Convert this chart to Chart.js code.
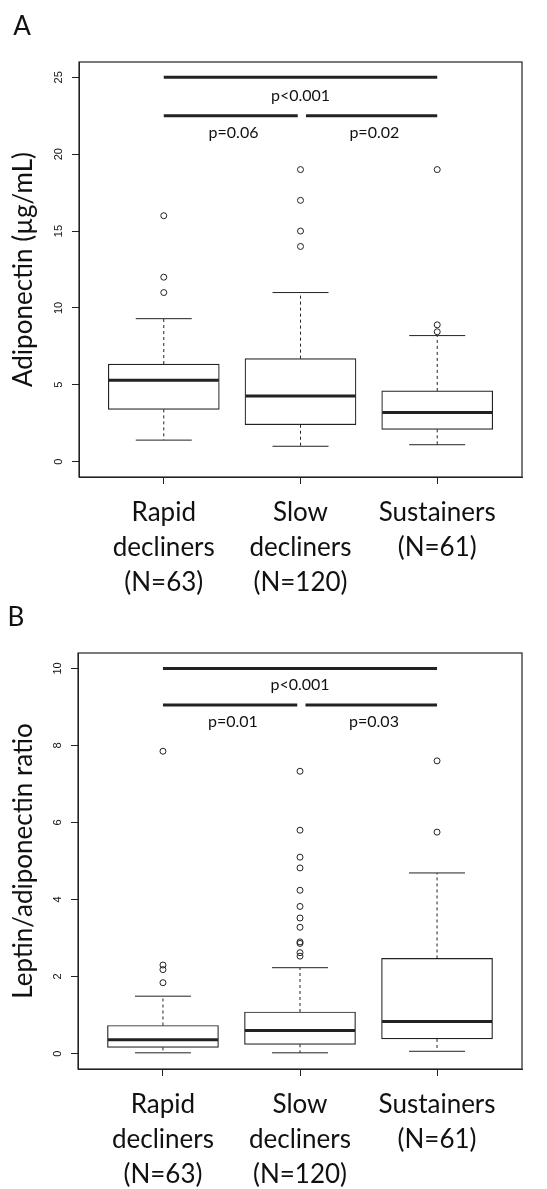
<!DOCTYPE html>
<html>
<head>
<meta charset="utf-8">
<script src="https://cdn.jsdelivr.net/npm/chart.js@4.4.1/dist/chart.umd.min.js"></script>
<style>
  html, body { margin: 0; padding: 0; background: #fff; }
  #wrap { position: relative; width: 547px; height: 1189px; }
  canvas { position: absolute; left: 0; }
  #chartA { top: 0; }
  #chartB { top: 600px; }
</style>
</head>
<body>
<div id="wrap">
  <canvas id="chartA" width="547" height="600"></canvas>
  <canvas id="chartB" width="547" height="589"></canvas>
</div>
<script>
// groups
const categories = [['Rapid', 'decliners', '(N=63)'], ['Slow', 'decliners', '(N=120)'], ['Sustainers', '(N=61)']];
const positions = [1, 2, 3];

// Panel A - Adiponectin
const adipoLow = [1.4, 1.0, 1.1];
const adipoQ1 = [3.4, 2.4, 2.1];
const adipoMedian = [5.3, 4.27, 3.2];
const adipoQ3 = [6.35, 6.7, 4.6];
const adipoHigh = [9.3, 11.0, 8.2];
const adipoOutliers = [[11, 12, 16], [14, 15, 17, 19], [8.45, 8.9, 19]];
const adipoTicks = [0, 5, 10, 15, 20, 25];
const adipoSigLines = [[1, 3, 25], [1, 1.98, 22.5], [2.04, 3, 22.5]];
const adipoSigText = ['p<0.001', 'p=0.06', 'p=0.02'];
const adipoSigTextPos = [[2, 23.8], [1.51, 21.4], [2.54, 21.4]];

// Panel B - Leptin/adiponectin ratio
const ratioLow = [0.02, 0.02, 0.06];
const ratioQ1 = [0.16, 0.24, 0.38];
const ratioMedian = [0.36, 0.6, 0.83];
const ratioQ3 = [0.73, 1.08, 2.47];
const ratioHigh = [1.49, 2.23, 4.69];
const ratioOutliers = [
    [1.84, 2.18, 2.3, 7.85],
    [2.53, 2.62, 2.86, 2.9, 3.28, 3.52, 3.82, 4.24, 4.82, 5.1, 5.8, 7.33],
    [5.75, 7.6]
];
const ratioTicks = [0, 2, 4, 6, 8, 10];
const ratioSigLines = [[1, 3, 10], [1, 1.98, 9.05], [2.04, 3, 9.05]];
const ratioSigText = ['p<0.001', 'p=0.01', 'p=0.03'];
const ratioSigTextPos = [[2, 9.58], [1.51, 8.6], [2.54, 8.6]];

const ink = '#222';
const bigFont = 'Lato, "Open Sans", sans-serif';
const smallFont = '"Liberation Sans", Arial, sans-serif';

function makePanel(canvasId, p) {
    // whiskers, medians, frame, y labels, p-values
    const extras = {
        id: 'extras_' + canvasId,
        afterDatasetsDraw(chart) {
            const {ctx, chartArea: a, scales: {x, y}} = chart;
            ctx.save();
            ctx.strokeStyle = ink;
            ctx.fillStyle = '#111';

            positions.forEach((pos, i) => {
                const cx = x.getPixelForValue(pos);
                ctx.lineWidth = 1;
                ctx.setLineDash([3, 3]);
                ctx.beginPath();
                ctx.moveTo(cx, y.getPixelForValue(p.q3[i]));
                ctx.lineTo(cx, y.getPixelForValue(p.high[i]));
                ctx.moveTo(cx, y.getPixelForValue(p.q1[i]));
                ctx.lineTo(cx, y.getPixelForValue(p.low[i]));
                ctx.stroke();
                ctx.setLineDash([]);
                ctx.beginPath();
                ctx.moveTo(cx - 28, y.getPixelForValue(p.high[i]));
                ctx.lineTo(cx + 28, y.getPixelForValue(p.high[i]));
                ctx.moveTo(cx - 28, y.getPixelForValue(p.low[i]));
                ctx.lineTo(cx + 28, y.getPixelForValue(p.low[i]));
                ctx.stroke();
                // median
                ctx.lineWidth = 3;
                ctx.beginPath();
                ctx.moveTo(cx - 55, y.getPixelForValue(p.median[i]));
                ctx.lineTo(cx + 55, y.getPixelForValue(p.median[i]));
                ctx.stroke();
            });

            // frame
            ctx.lineWidth = 1.2;
            ctx.strokeRect(a.left, a.top, a.right - a.left, a.bottom - a.top);

            // significance bars
            ctx.lineWidth = 3;
            p.sigLines.forEach(l => {
                ctx.beginPath();
                ctx.moveTo(x.getPixelForValue(l[0]), y.getPixelForValue(l[2]));
                ctx.lineTo(x.getPixelForValue(l[1]), y.getPixelForValue(l[2]));
                ctx.stroke();
            });
            ctx.font = '16px ' + bigFont;
            ctx.textAlign = 'center';
            ctx.textBaseline = 'middle';
            p.sigText.forEach((t, i) => {
                ctx.fillText(t, x.getPixelForValue(p.sigTextPos[i][0]), y.getPixelForValue(p.sigTextPos[i][1]));
            });

            // y tick labels, rotated like R
            ctx.font = '11px ' + smallFont;
            y.ticks.forEach(t => {
                ctx.save();
                ctx.translate(a.left - 20, y.getPixelForValue(t.value));
                ctx.rotate(-Math.PI / 2);
                ctx.fillText(String(t.value), 0, 0);
                ctx.restore();
            });

            // panel letter
            ctx.font = '26px ' + bigFont;
            ctx.fillText(p.letter, p.letterPos[0], p.letterPos[1]);
            ctx.restore();
        }
    };

    const gridOpts = {drawOnChartArea: false, drawTicks: true, tickLength: 7, color: ink, offset: false};

    return new Chart(document.getElementById(canvasId), {
        type: 'bar',
        data: {
            datasets: [
                {
                    type: 'bar',
                    data: positions.map((pos, i) => ({x: pos, y: [p.q1[i], p.q3[i]]})),
                    backgroundColor: '#fff',
                    borderColor: ink,
                    borderWidth: 1.2,
                    borderSkipped: false,
                    barThickness: 111,
                    grouped: false
                },
                {
                    type: 'scatter',
                    data: p.outliers.flatMap((arr, i) => arr.map(v => ({x: positions[i], y: v}))),
                    pointRadius: 3,
                    pointBorderWidth: 1,
                    pointBorderColor: ink,
                    pointBackgroundColor: 'rgba(0,0,0,0)'
                }
            ]
        },
        options: {
            responsive: false,
            animation: false,
            devicePixelRatio: 1,
            layout: {padding: {top: p.areaTop, right: 25, left: 0, bottom: 0}},
            plugins: {legend: {display: false}, tooltip: {enabled: false}},
            scales: {
                x: {
                    type: 'linear',
                    min: 0.38,
                    max: 3.62,
                    offset: false,
                    afterBuildTicks: s => { s.ticks = positions.map(v => ({value: v})); },
                    afterFit: s => { s.height = p.height - p.areaBottom; },
                    grid: gridOpts,
                    border: {display: true, color: ink},
                    ticks: {
                        autoSkip: false,
                        maxRotation: 0,
                        minRotation: 0,
                        padding: 11,
                        color: '#111',
                        font: {family: bigFont, size: 26, lineHeight: 35 / 26},
                        callback: (v, i) => categories[i]
                    }
                },
                y: {
                    type: 'linear',
                    min: p.yMin,
                    max: p.yMax,
                    afterBuildTicks: s => { s.ticks = p.yTicks.map(v => ({value: v})); },
                    afterFit: s => { s.width = p.areaLeft; },
                    grid: gridOpts,
                    border: {display: true, color: ink},
                    ticks: {display: false},
                    title: {
                        display: true,
                        text: p.title,
                        color: '#111',
                        font: {family: bigFont, size: 26},
                        padding: {top: 8, bottom: 0}
                    }
                }
            }
        },
        plugins: [extras]
    });
}

makePanel('chartA', {
    letter: 'A', letterPos: [22, 27],
    title: 'Adiponectin (µg/mL)',
    height: 600, areaTop: 62, areaBottom: 477, areaLeft: 79,
    yMin: -1, yMax: 26, yTicks: adipoTicks,
    low: adipoLow, q1: adipoQ1, median: adipoMedian, q3: adipoQ3, high: adipoHigh,
    outliers: adipoOutliers,
    sigLines: adipoSigLines, sigText: adipoSigText, sigTextPos: adipoSigTextPos
});

makePanel('chartB', {
    letter: 'B', letterPos: [16, 18],
    title: 'Leptin/adiponectin ratio',
    height: 589, areaTop: 53, areaBottom: 469, areaLeft: 78,
    yMin: -0.4, yMax: 10.4, yTicks: ratioTicks,
    low: ratioLow, q1: ratioQ1, median: ratioMedian, q3: ratioQ3, high: ratioHigh,
    outliers: ratioOutliers,
    sigLines: ratioSigLines, sigText: ratioSigText, sigTextPos: ratioSigTextPos
});
</script>
</body>
</html>
